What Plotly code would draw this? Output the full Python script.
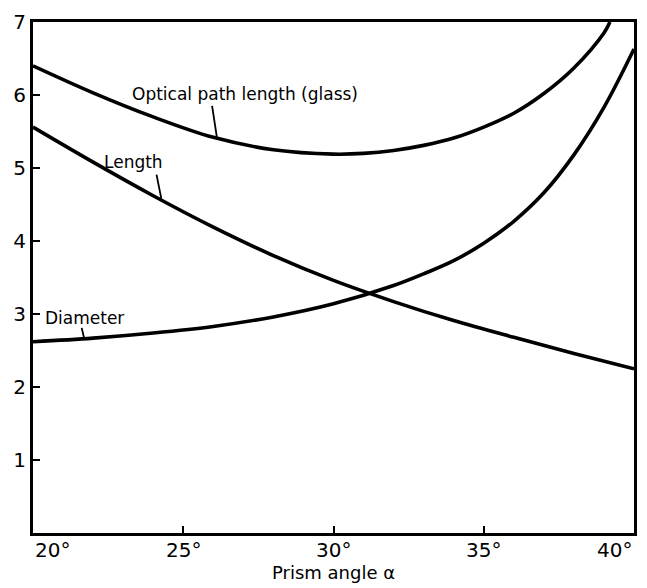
import plotly.graph_objects as go

# ---- data ----
angle_opt = [20, 22, 24, 26, 28, 30, 31, 32, 33, 34, 35, 36, 37, 38, 39, 39.2]
optical_path = [6.40, 6.03, 5.70, 5.42, 5.25, 5.19, 5.20, 5.24, 5.31, 5.41, 5.56, 5.75, 6.02, 6.37, 6.85, 7.0]

angle_len = [20, 22, 24, 26, 28, 30, 32, 34, 36, 38, 40]
length = [5.56, 5.08, 4.62, 4.19, 3.80, 3.46, 3.17, 2.91, 2.68, 2.46, 2.25]

angle_dia = [20, 22, 24, 26, 28, 30, 32, 33, 34, 35, 36, 37, 38, 39, 40]
diameter = [2.62, 2.67, 2.74, 2.83, 2.96, 3.14, 3.39, 3.55, 3.73, 3.97, 4.27, 4.66, 5.18, 5.83, 6.63]

x_ticks = [20, 25, 30, 35, 40]
x_ticktext = ["20°", "25°", "30°", "35°", "40°"]
y_ticks = [1, 2, 3, 4, 5, 6, 7]

labels = ["Optical path length (glass)", "Length", "Diameter"]
label_pos = [(27.07, 6.02), (23.36, 5.08), (21.7, 2.94)]
pointers = [((25.96, 5.85), (26.13, 5.39)),
            ((24.11, 4.91), (24.27, 4.58)),
            ((21.62, 2.81), (21.70, 2.67))]

FONT = "DejaVu Sans"
line_style = dict(color="black", width=3.6, shape="spline", smoothing=1.0)

fig = go.Figure()
for xs, ys in [(angle_opt, optical_path), (angle_len, length), (angle_dia, diameter)]:
    fig.add_trace(go.Scatter(x=xs, y=ys, mode="lines", line=line_style,
                             showlegend=False, hoverinfo="skip"))

for text, (lx, ly) in zip(labels, label_pos):
    fig.add_annotation(x=lx, y=ly, text=text, showarrow=False,
                       font=dict(family=FONT, size=17, color="black"))
for (p0, p1) in pointers:
    fig.add_shape(type="line", x0=p0[0], y0=p0[1], x1=p1[0], y1=p1[1],
                  line=dict(color="black", width=1.8))

# x tick labels as annotations (end labels tucked inside)
for i, (v, t) in enumerate(zip(x_ticks, x_ticktext)):
    anchor = "left" if i == 0 else ("right" if i == len(x_ticks) - 1 else "center")
    fig.add_annotation(x=v, y=0, xref="x", yref="paper", text=t, showarrow=False,
                       xanchor=anchor, yanchor="top", yshift=-3,
                       font=dict(family=FONT, size=20, color="black"))

fig.add_annotation(x=0.5, y=0, xref="paper", yref="paper", text="Prism angle α",
                   showarrow=False, xanchor="center", yanchor="top", yshift=-27,
                   font=dict(family=FONT, size=18, color="black"))

fig.update_layout(
    width=647, height=588,
    margin=dict(l=33, r=10, t=12, b=55),
    paper_bgcolor="white", plot_bgcolor="white",
    font=dict(family=FONT, color="black"),
)
fig.update_xaxes(range=[20, 40], tickvals=x_ticks, showticklabels=False,
                 ticks="inside", ticklen=7, tickwidth=2, tickcolor="black",
                 showline=True, linecolor="black", linewidth=2.8, mirror=True,
                 showgrid=False, zeroline=False)
fig.update_yaxes(range=[0, 7], tickvals=y_ticks, ticks="inside", ticklen=7,
                 tickwidth=2, tickcolor="black",
                 tickfont=dict(family=FONT, size=20, color="black"),
                 showline=True, linecolor="black", linewidth=2.8, mirror=True,
                 showgrid=False, zeroline=False)

fig.write_html("out.html")
